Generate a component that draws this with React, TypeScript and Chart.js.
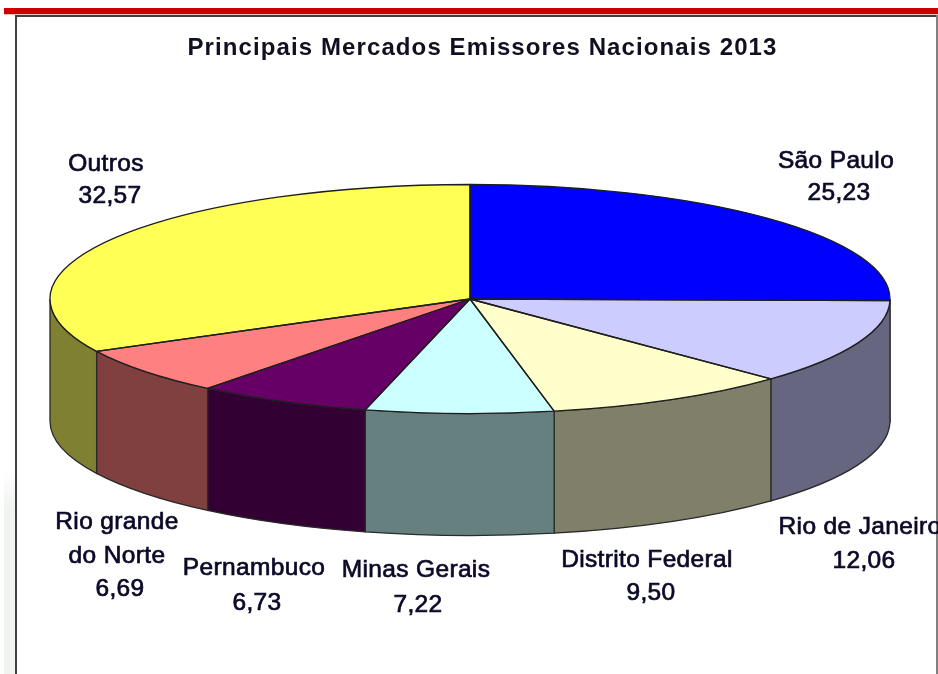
import React, { useEffect, useRef } from "react";
import { Chart, registerables } from "chart.js";

Chart.register(...registerables);

const chartTitle = "Principais Mercados Emissores Nacionais 2013";
const categories = ["São Paulo", "Rio de Janeiro", "Distrito Federal", "Minas Gerais", "Pernambuco", "Rio grande do Norte", "Outros"];
const shares = [25.23, 12.06, 9.5, 7.22, 6.73, 6.69, 32.57];
const topColors = ["#0000FF", "#CCCCFF", "#FFFFCC", "#CCFFFF", "#660066", "#FF8080", "#FFFF55"];
const wallColors = ["#000080", "#666680", "#80806A", "#668080", "#330033", "#804040", "#808033"];

// Layout, kept apart from the values.
const labelLines = [
  ["São Paulo"],
  ["Rio de Janeiro"],
  ["Distrito Federal"],
  ["Minas Gerais"],
  ["Pernambuco"],
  ["Rio grande", "do Norte"],
  ["Outros"],
];
const labelSpots = [
  [[836, 161], [839, 193]],
  [[860, 527], [864, 561]],
  [[647, 560], [651, 593]],
  [[416, 570], [418, 605]],
  [[254, 568], [257, 603]],
  [[117, 522], [117, 556], [120, 589]],
  [[106, 164], [110, 196]],
];
const PIE = { cx: 470, cy: 299, rx: 420, ry: 114.5, depth: 122 };
const FONT = '"Liberation Sans", Arial, sans-serif';

const pie3dPlugin = {
  id: "pie3d",
  beforeDraw(chart: any) {
    const { ctx, width, height } = chart;
    ctx.save();
    ctx.fillStyle = "#FFFFFF";
    ctx.fillRect(0, 0, width, height);
    const strip = ctx.createLinearGradient(0, 470, 0, 510);
    strip.addColorStop(0, "#FFFFFF");
    strip.addColorStop(1, "#F0F3F0");
    ctx.fillStyle = strip;
    ctx.fillRect(4, 470, 12, height - 470);
    ctx.fillStyle = "#CC0000";
    ctx.fillRect(4, 8, width - 4, 6);
    ctx.fillStyle = "#F0C0C0";
    ctx.fillRect(4, 14, width - 4, 1);
    ctx.fillStyle = "#404040";
    ctx.fillRect(16, 15, width - 16, 2);
    ctx.fillRect(15, 15, 2, height - 15);
    ctx.fillStyle = "#808080";
    ctx.fillRect(width - 2, 15, 2, height - 15);
    ctx.restore();
    (ctx as any).letterSpacing = "1.1px";
  },
  beforeDatasetsDraw(chart: any) {
    const { ctx } = chart;
    (ctx as any).letterSpacing = "0px";
    const arcs = chart.getDatasetMeta(0).data;
    const first = arcs[0];
    const sx = PIE.rx / first.outerRadius;
    const sy = PIE.ry / first.outerRadius;
    ctx.save();
    ctx.lineWidth = 1.3;
    ctx.strokeStyle = "#2A2A2A";
    arcs.forEach((arc: any, i: number) => {
      const a0 = Math.max(arc.startAngle, 0);
      const a1 = Math.min(arc.endAngle, Math.PI);
      if (a1 <= a0) return;
      ctx.beginPath();
      ctx.ellipse(PIE.cx, PIE.cy, PIE.rx, PIE.ry, 0, a0, a1);
      ctx.ellipse(PIE.cx, PIE.cy + PIE.depth, PIE.rx, PIE.ry, 0, a1, a0, true);
      ctx.closePath();
      ctx.fillStyle = wallColors[i];
      ctx.fill();
      ctx.stroke();
    });
    ctx.restore();
    ctx.save();
    ctx.translate(PIE.cx, PIE.cy);
    ctx.scale(sx, sy);
    ctx.translate(-first.x, -first.y);
  },
  afterDatasetsDraw(chart: any) {
    const { ctx } = chart;
    ctx.restore();
    ctx.save();
    ctx.lineWidth = 1.3;
    ctx.lineJoin = "round";
    ctx.strokeStyle = "#1E1E1E";
    chart.getDatasetMeta(0).data.forEach((arc: any) => {
      ctx.beginPath();
      ctx.moveTo(PIE.cx, PIE.cy);
      ctx.ellipse(PIE.cx, PIE.cy, PIE.rx, PIE.ry, 0, arc.startAngle, arc.endAngle);
      ctx.closePath();
      ctx.stroke();
    });
    ctx.restore();
    ctx.save();
    ctx.font = `24.5px ${FONT}`;
    (ctx as any).letterSpacing = "0.35px";
    ctx.textAlign = "center";
    ctx.textBaseline = "middle";
    ctx.fillStyle = "#0A0A28";
    ctx.strokeStyle = "#0A0A28";
    ctx.lineWidth = 0.7;
    categories.forEach((_, i) => {
      const lines = [...labelLines[i], shares[i].toFixed(2).replace(".", ",")];
      lines.forEach((line, j) => {
        const [x, y] = labelSpots[i][j];
        ctx.fillText(line, x, y);
        ctx.strokeText(line, x, y);
      });
    });
    ctx.restore();
  },
};

export default function App() {
  const ref = useRef<HTMLCanvasElement | null>(null);
  useEffect(() => {
    const chart = new Chart(ref.current as HTMLCanvasElement, {
      type: "pie",
      data: {
        labels: categories,
        datasets: [
          {
            data: shares,
            backgroundColor: topColors,
            borderWidth: 0,
            clip: false,
          } as any,
        ],
      },
      options: {
        responsive: false,
        animation: false,
        layout: { padding: { left: 27, right: 0, top: 0, bottom: 20 } },
        plugins: {
          legend: { display: false },
          tooltip: { enabled: false },
          title: {
            display: true,
            text: chartTitle,
            color: "#101020",
            font: { family: FONT, size: 24, weight: "bold" },
            padding: { top: 34, bottom: 20 },
          },
        },
      },
      plugins: [pie3dPlugin],
    });
    return () => chart.destroy();
  }, []);
  return (
    <div style={{ position: "fixed", left: 0, top: 0, width: 938, height: 674, overflow: "hidden", background: "#fff" }}>
      <canvas ref={ref} width={938} height={674} style={{ display: "block", filter: "blur(0.4px)" }} />
    </div>
  );
}
